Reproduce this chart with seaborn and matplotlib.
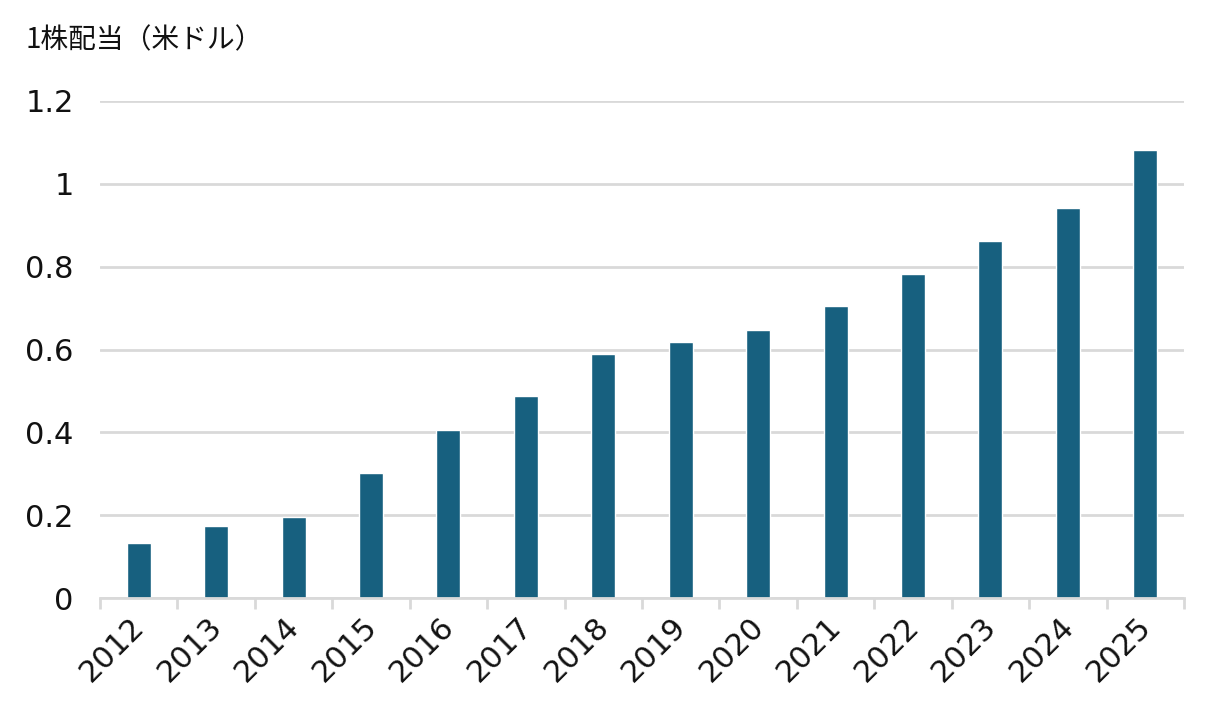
import matplotlib
matplotlib.use("Agg")
import matplotlib.pyplot as plt
import matplotlib.transforms as mtransforms
import seaborn as sns
import pandas as pd
import numpy as np

years = ["2012", "2013", "2014", "2015", "2016", "2017", "2018",
         "2019", "2020", "2021", "2022", "2023", "2024", "2025"]
dividends = [0.133, 0.174, 0.196, 0.302, 0.405, 0.488, 0.589,
             0.618, 0.647, 0.705, 0.783, 0.862, 0.942, 1.082]
yticks = [0, 0.2, 0.4, 0.6, 0.8, 1.0, 1.2]
ytick_labels = ["0", "0.2", "0.4", "0.6", "0.8", "1", "1.2"]

sns.set_theme(style="white")
plt.rcParams['font.family'] = ['DejaVu Sans', 'Noto Sans CJK JP']

df = pd.DataFrame({"year": years, "value": dividends})

fig = plt.figure(figsize=(12.12, 7.18), dpi=100)
ax = fig.add_axes([100/1212, 1-598/718, (1184-100)/1212, (598-101)/718])

sns.barplot(data=df, x="year", y="value", color="#17607f", width=0.31,
            saturation=1, ax=ax)

ax.set_ylim(0, 1.2)
ax.set_xlim(-0.5, len(years) - 0.5)
ax.set_yticks(yticks)
ax.set_yticklabels(ytick_labels, fontsize=22, color="#111111")
ax.yaxis.grid(True, color="#d9d9d9", linewidth=2)
ax.set_axisbelow(True)
ax.tick_params(axis="y", length=0, pad=19)

ax.set_xticks(np.arange(len(years)))
ax.set_xticklabels(years, rotation=45, ha="right", rotation_mode="anchor",
                   fontsize=22, color="#111111")
ax.tick_params(axis="x", which="major", length=0, pad=10)
ax.set_xticks(np.arange(-0.5, len(years)), minor=True)
ax.tick_params(axis="x", which="minor", bottom=True, length=8, width=2,
               color="#d9d9d9", direction="out")
offset = mtransforms.ScaledTranslation(-9/100, 0, fig.dpi_scale_trans)
for lab in ax.get_xticklabels():
    lab.set_transform(lab.get_transform() + offset)

for s in ["top", "right", "left"]:
    ax.spines[s].set_visible(False)
ax.spines["bottom"].set_color("#d9d9d9")
ax.spines["bottom"].set_linewidth(2)

ax.set_xlabel("")
ax.set_ylabel("")

fig.text(26/1212, 1-40/718, "1株配当（米ドル）", fontsize=20, color="#111111",
         va="center", ha="left", family=["Noto Sans CJK JP", "DejaVu Sans"])

fig.savefig("out.png", dpi=100, facecolor="white")
